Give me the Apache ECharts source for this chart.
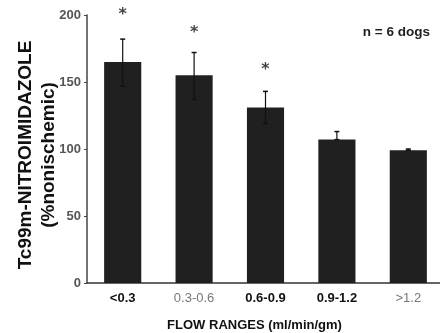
<!DOCTYPE html>
<html>
<head>
<meta charset="utf-8">
<script src="https://cdn.jsdelivr.net/npm/echarts@6/dist/echarts.min.js"></script>
<style>
  html, body { margin: 0; padding: 0; background: #fff; }
  #chart { width: 440px; height: 333px; }
</style>
</head>
<body>
<div id="chart"></div>
<script>
// flow ranges (ml/min/gm)
var categories = ['<0.3', '0.3-0.6', '0.6-0.9', '0.9-1.2', '>1.2'];
// Tc99m-nitroimidazole uptake, % of nonischemic
var means = [165, 155, 131, 107, 99];
var errHigh = [182, 172, 143, 113, 100];
var errLow = [147, 137, 119, 107, 99];
// asterisks (significant), placed above the error bars
var starIdx = [0, 1, 2];
var starVals = [200, 187, 159];
var yTicks = [0, 50, 100, 150, 200];
// faded labels in the scan
var fadedLabels = ['0.3-0.6', '>1.2'];

var errData = categories.map(function (c, i) { return [i, errHigh[i], errLow[i]]; });
var starData = starIdx.map(function (k, i) { return [k, starVals[i]]; });

var myChart = echarts.init(document.getElementById('chart'));
var option = {
  backgroundColor: '#fff',
  animation: false,
  textStyle: { fontFamily: 'Liberation Sans, Arial, sans-serif' },
  grid: { left: 87, top: 15, bottom: 50, width: 357, containLabel: false, outerBoundsMode: 'none' },
  title: {
    text: 'n = 6 dogs',
    right: 5, top: 20,
    textStyle: { fontSize: 13.5, fontWeight: 'bold', color: '#222' }
  },
  xAxis: {
    type: 'category',
    data: categories,
    name: 'FLOW RANGES (ml/min/gm)',
    nameLocation: 'middle',
    nameGap: 36,
    nameTextStyle: { fontSize: 13, fontWeight: 'bold', color: '#111', padding: [0, 0, 0, -22] },
    axisLine: { lineStyle: { color: '#333', width: 1.5 } },
    axisTick: { show: false },
    axisLabel: {
      interval: 0,
      margin: 9,
      formatter: function (v) {
        return fadedLabels.indexOf(v) >= 0 ? '{g|' + v + '}' : '{b|' + v + '}';
      },
      rich: {
        b: { fontSize: 13, fontWeight: 'bold', color: '#111' },
        g: { fontSize: 13, color: '#777' }
      }
    }
  },
  yAxis: {
    type: 'value',
    min: 0, max: 200, interval: 50,
    name: 'Tc99m-NITROIMIDAZOLE\n(%nonischemic)',
    nameLocation: 'middle',
    nameGap: 27,
    nameMoveOverlap: false,
    nameRotate: 90,
    nameTextStyle: { fontSize: 19, fontWeight: 'bold', color: '#111', lineHeight: 23, padding: [0, 0, 0, -12] },
    axisLine: { show: true, lineStyle: { color: '#444', width: 1.5 } },
    axisTick: { show: true, length: 3, lineStyle: { color: '#444' } },
    splitLine: { show: false },
    axisLabel: {
      fontSize: 13, fontWeight: 'bold', color: '#555', margin: 6,
      formatter: function (v) { return yTicks.indexOf(v) >= 0 ? v : ''; }
    }
  },
  series: [
    {
      type: 'bar',
      data: means,
      barWidth: '52%',
      itemStyle: { color: '#202020' }
    },
    {
      type: 'custom',
      data: errData,
      z: 5,
      renderItem: function (params, api) {
        var x = api.value(0);
        var hi = api.coord([x, api.value(1)]);
        var lo = api.coord([x, api.value(2)]);
        var cap = 2.5;
        return {
          type: 'group',
          children: [
            { type: 'line', shape: { x1: hi[0], y1: hi[1], x2: lo[0], y2: lo[1] }, style: { stroke: '#111', lineWidth: 1.2 } },
            { type: 'line', shape: { x1: hi[0] - cap, y1: hi[1], x2: hi[0] + cap, y2: hi[1] }, style: { stroke: '#111', lineWidth: 1.5 } },
            { type: 'line', shape: { x1: lo[0] - cap, y1: lo[1], x2: lo[0] + cap, y2: lo[1] }, style: { stroke: '#111', lineWidth: 1.5 } }
          ]
        };
      }
    },
    {
      type: 'scatter',
      data: starData,
      clip: false,
      symbolSize: 1,
      itemStyle: { color: 'transparent' },
      label: {
        show: true,
        position: 'inside',
        formatter: '*',
        fontSize: 16,
        fontWeight: 'bold',
        color: '#111',
        fontFamily: 'DejaVu Sans'
      }
    }
  ]
};
myChart.setOption(option);
</script>
</body>
</html>
